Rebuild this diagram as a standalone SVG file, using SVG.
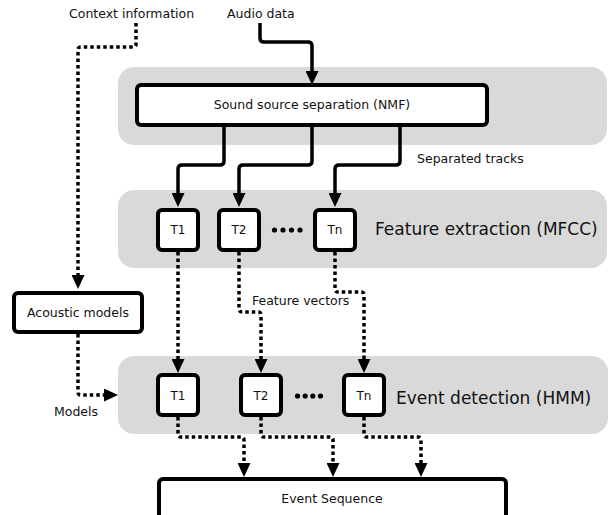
<svg xmlns="http://www.w3.org/2000/svg" width="608" height="515" viewBox="0 0 608 515">
  <style>
    .band { fill: #d9d9d9; }
    .box { fill: #ffffff; stroke: #000000; stroke-width: 4; }
    .lbl { font-family: "DejaVu Sans", "Liberation Sans", sans-serif; font-size: 12.5px; fill: #111111; }
    .small { font-family: "DejaVu Sans", "Liberation Sans", sans-serif; font-size: 12px; fill: #111111; text-anchor: middle; }
    .stage { font-family: "DejaVu Sans", "Liberation Sans", sans-serif; font-size: 17px; fill: #111111; }
    .solid { fill: none; stroke: #000000; stroke-width: 3.5; marker-end: url(#arrow); }
    .dotted { fill: none; stroke: #000000; stroke-width: 3.5; stroke-dasharray: 3.5 3; marker-end: url(#arrow); }
  </style>
  <defs>
    <marker id="arrow" viewBox="0 0 14 13" refX="4" refY="6.5" markerWidth="14" markerHeight="13" markerUnits="userSpaceOnUse" orient="auto">
      <path d="M0,0 L14,6.5 L0,13 Z" fill="#000000"/>
    </marker>
  </defs>

  <!-- processing stages (grey bands) -->
  <g id="stage-separation">
    <rect class="band" x="118" y="67" width="489" height="78" rx="16"/>
  </g>
  <g id="stage-features">
    <rect class="band" x="118" y="190" width="489" height="78" rx="16"/>
    <text class="stage" x="375" y="235">Feature extraction (MFCC)</text>
  </g>
  <g id="stage-detection">
    <rect class="band" x="118" y="356" width="490" height="78" rx="16"/>
    <text class="stage" x="396" y="404">Event detection (HMM)</text>
  </g>

  <!-- inputs -->
  <g id="input-context">
    <text class="lbl" x="69" y="18">Context information</text>
  </g>
  <g id="input-audio">
    <text class="lbl" x="227" y="18">Audio data</text>
  </g>

  <!-- nodes -->
  <g id="nmf">
    <rect class="box" x="137" y="85" width="350" height="40" rx="4"/>
    <text class="lbl" x="312" y="109" text-anchor="middle">Sound source separation (NMF)</text>
  </g>

  <g id="mfcc-t1">
    <rect class="box" x="158" y="210" width="40" height="40" rx="4"/>
    <text class="small" x="178" y="234">T1</text>
  </g>
  <g id="mfcc-t2">
    <rect class="box" x="219" y="210" width="40" height="40" rx="4"/>
    <text class="small" x="239" y="234">T2</text>
  </g>
  <g id="mfcc-dots">
    <circle cx="274.5" cy="230" r="2.6"/>
    <circle cx="283" cy="230" r="2.6"/>
    <circle cx="291.5" cy="230" r="2.6"/>
    <circle cx="300" cy="230" r="2.6"/>
  </g>
  <g id="mfcc-tn">
    <rect class="box" x="315" y="210" width="40" height="40" rx="4"/>
    <text class="small" x="335" y="234">Tn</text>
  </g>

  <g id="acoustic-models">
    <rect class="box" x="14" y="293" width="128" height="39" rx="4"/>
    <text class="lbl" x="78" y="317" text-anchor="middle">Acoustic models</text>
  </g>

  <g id="hmm-t1">
    <rect class="box" x="158" y="375" width="40" height="40" rx="4"/>
    <text class="small" x="178" y="400">T1</text>
  </g>
  <g id="hmm-t2">
    <rect class="box" x="241" y="375" width="40" height="40" rx="4"/>
    <text class="small" x="261" y="400">T2</text>
  </g>
  <g id="hmm-dots">
    <circle cx="297.5" cy="396" r="2.6"/>
    <circle cx="305.2" cy="396" r="2.6"/>
    <circle cx="312.8" cy="396" r="2.6"/>
    <circle cx="320.5" cy="396" r="2.6"/>
  </g>
  <g id="hmm-tn">
    <rect class="box" x="344" y="375" width="40" height="40" rx="4"/>
    <text class="small" x="364" y="400">Tn</text>
  </g>

  <g id="event-sequence">
    <rect class="box" x="159" y="479" width="347" height="60" rx="4"/>
    <text class="lbl" x="332" y="503" text-anchor="middle">Event Sequence</text>
  </g>

  <!-- connectors -->
  <g id="connectors">
    <path class="solid" d="M260,23 V38 Q260,42 264,42 H308 Q312,42 312,46 V75"/>
    <path class="dotted" d="M136,23 V44 Q136,47 133,47 H81 Q78,47 78,50 V279"/>

    <path class="solid" d="M224,127 V161 Q224,165 220,165 H182 Q178,165 178,169 V197"/>
    <path class="solid" d="M312,127 V161 Q312,165 308,165 H243 Q239,165 239,169 V197"/>
    <path class="solid" d="M400,127 V161 Q400,165 396,165 H339 Q335,165 335,169 V197"/>
    <text class="lbl" x="417" y="163">Separated tracks</text>

    <path class="dotted" d="M178,252 V363"/>
    <path class="dotted" d="M239,252 V309 Q239,312 242,312 H258 Q261,312 261,315 V363"/>
    <path class="dotted" d="M335,252 V289 Q335,292 338,292 H361 Q364,292 364,295 V363"/>
    <text class="lbl" x="252" y="305">Feature vectors</text>

    <path class="dotted" d="M78,334 V392 Q78,395 81,395 H108"/>
    <text class="lbl" x="54" y="416">Models</text>

    <path class="dotted" d="M178,417 V434 Q178,437 181,437 H241 Q244,437 244,440 V467"/>
    <path class="dotted" d="M261,417 V434 Q261,437 264,437 H330 Q333,437 333,440 V467"/>
    <path class="dotted" d="M364,417 V434 Q364,437 367,437 H418 Q421,437 421,440 V467"/>
  </g>
</svg>
